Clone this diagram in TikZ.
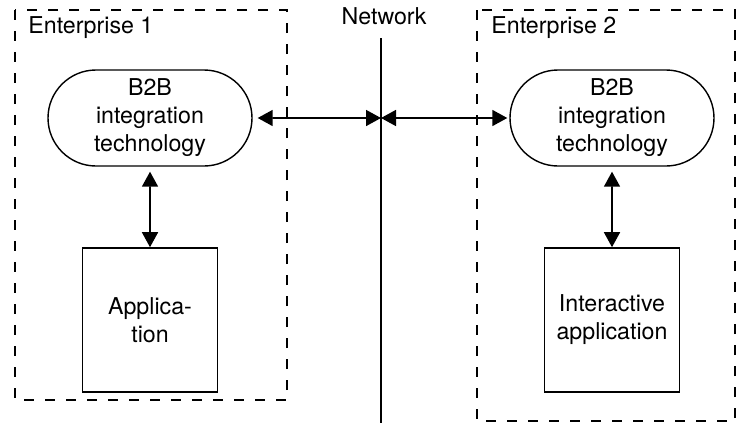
\documentclass[tikz,border=0pt]{standalone}
\usepackage{fontspec}
\setmainfont{TeX Gyre Heros}
\usetikzlibrary{arrows.meta,shapes.misc}

\begin{document}
\begin{tikzpicture}[x=0.5pt,y=-0.5pt,
	font=\fontsize{11.6}{14}\selectfont,
	entreprise/.style={draw, dashed, dash pattern=on 5pt off 5.5pt, line width=0.8pt},
	integ/.style={draw, rounded rectangle, line width=0.7pt, minimum width=102pt, minimum height=48pt, align=center, inner sep=0pt},
	appli/.style={draw, line width=0.8pt, minimum width=67.5pt, minimum height=72pt, align=center},
	titre/.style={inner sep=0pt, anchor=base west},
	fleche/.style={{Triangle[length=7.5pt,width=8pt]}-{Triangle[length=7.5pt,width=8pt]}, line width=0.8pt}]
	\useasboundingbox (0,0) rectangle (738,423);
	% les deux entreprises
	\draw[entreprise] (15,10) rectangle (287,400);
	\draw[entreprise] (477,10) rectangle (735,421);
	\node[titre] (ent1) at (28,33) {Enterprise 1};
	\node[titre] (ent2) at (491,33) {Enterprise 2};
	% le réseau
	\node[inner sep=0pt, anchor=base] (net) at (384,25) {Network};
	\coordinate (haut) at (381,38);
	\coordinate (bas) at (381,423);
	\coordinate (mil) at (381,118);
	\draw[line width=0.8pt] (haut) -- (bas);
	% les noeuds
	\node[integ] (b2b1) at (150,118) {B2B\\integration\\technology};
	\node[integ] (b2b2) at (612,118) {B2B\\integration\\technology};
	\node[appli] (app1) at (150,320) {Applica-\\tion};
	\node[appli] (app2) at (612,320) {Interactive\\application};
	% les fleches
	\draw[fleche, shorten <=2.5pt] (b2b1) -- (mil);
	\draw[fleche, shorten >=1pt] (mil) -- (b2b2);
	\draw[fleche, shorten <=2.5pt] (b2b1) -- (app1);
	\draw[fleche, shorten <=2.5pt] (b2b2) -- (app2);
\end{tikzpicture}
\end{document}
